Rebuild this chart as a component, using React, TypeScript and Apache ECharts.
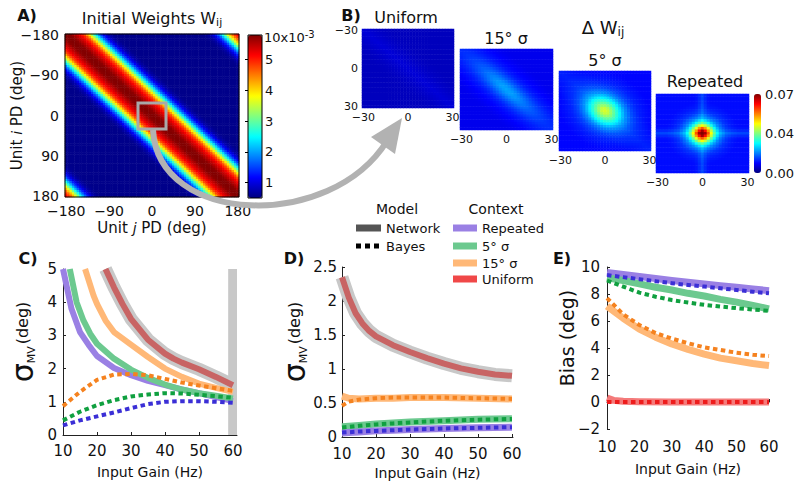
import React, { useEffect, useRef } from 'react';
import * as echarts from 'echarts';

const FONT = 'DejaVu Sans';
const INK = '#111';

// ---------- Panel A: initial weights ----------
const pdTicks = [-180, -90, 0, 90, 180];
const pdStep = 5;
const weightDist = [0, 10, 20, 30, 40, 50, 60, 70, 80, 90, 100, 110];
const weightProfile = [5.8, 5.75, 5.5, 5.2, 4.75, 3.9, 2.8, 1.8, 1.1, 0.72, 0.58, 0.55];
const weightWrapShift = 32;
const weightRange = [0.5, 5.8];
const weightBarTicks = [1, 2, 3, 4, 5];

// ---------- Panel B: delta W ----------
const dwTicks = [-30, 0, 30];
const dwStep = 2;
const dwRange = [0, 0.07];
const dwBarTicks = [0, 0.035, 0.07];
const dwBarLabels = ['0.00', '0.04', '0.07'];
const dwTitles = ['Uniform', '15° σ', '5° σ', 'Repeated'];
const bandDist = [0, 5, 10, 15, 20, 25, 30];
const blobDist = [0, 2, 4, 6, 8, 10, 12, 16, 20, 24, 28];
const crossDist = [0, 2, 4, 6];
const dwBase = [0.0042, 0.0075, 0.009, 0.0095];
const dwElong = [1, 3.5, 1.25, 1];
const uniformBand = [0.0018, 0.0012, 0.0006, 0.0002, 0, 0, 0];
const sigma15Band = [0.003, 0.0027, 0.002, 0.0013, 0.0007, 0.0003, 0];
const sigma5Band = [0.002, 0.0015, 0.001, 0.0005, 0, 0, 0];
const repeatedBand = [0, 0, 0, 0, 0, 0, 0];
const uniformBlob = [0, 0, 0, 0, 0, 0, 0, 0, 0, 0, 0];
const sigma15Blob = [0.0095, 0.0088, 0.007, 0.005, 0.0033, 0.002, 0.0012, 0.0004, 0, 0, 0];
const sigma5Blob = [0.03, 0.029, 0.025, 0.021, 0.017, 0.013, 0.009, 0.0045, 0.002, 0.0008, 0];
const repeatedBlob = [0.058, 0.054, 0.042, 0.03, 0.02, 0.013, 0.008, 0.003, 0.001, 0, 0];
const noCross = [0, 0, 0, 0];
const repeatedCross = [0.004, 0.002, 0.0005, 0];

// ---------- Panel C: sigma_MV ----------
const gainTicks = [10, 20, 30, 40, 50, 60];
const gainC_rep = [10, 12.5, 15, 17.5, 20, 25, 30, 35, 40, 45, 50, 55, 60];
const sigmaC_repNet = [5.0, 3.8, 3.1, 2.72, 2.38, 2.02, 1.8, 1.63, 1.5, 1.37, 1.26, 1.14, 1.02];
const gainC_s5 = [12, 14, 16, 18, 20, 25, 30, 35, 40, 45, 50, 55, 60];
const sigmaC_s5Net = [5.0, 4.0, 3.45, 3.05, 2.75, 2.3, 1.97, 1.72, 1.52, 1.37, 1.26, 1.18, 1.1];
const gainC_s15 = [16.5, 19, 20, 22.5, 25, 30, 35, 40, 45, 50, 55, 60];
const sigmaC_s15Net = [5.0, 4.2, 3.95, 3.45, 3.1, 2.72, 2.35, 2.0, 1.75, 1.55, 1.42, 1.3];
const gainC_uni = [22.5, 25, 27.5, 30, 35, 40, 42.5, 45, 50, 55, 60];
const sigmaC_uniNet = [5.0, 4.45, 3.95, 3.5, 2.87, 2.45, 2.3, 2.18, 1.98, 1.75, 1.5];
const gainBayes = [10, 15, 20, 25, 30, 35, 40, 45, 50, 55, 60];
const sigmaC_repBayes = [0.29, 0.44, 0.56, 0.68, 0.81, 0.93, 1.0, 1.02, 1.02, 1.0, 0.97];
const sigmaC_s5Bayes = [0.44, 0.7, 0.9, 1.05, 1.16, 1.22, 1.26, 1.25, 1.21, 1.17, 1.12];
const sigmaC_s15Bayes = [0.87, 1.3, 1.66, 1.82, 1.84, 1.8, 1.69, 1.58, 1.49, 1.41, 1.33];
const highlightGain = [58.6, 61.2];

// ---------- Panel D: sigma_MV (zoom) ----------
const gainD_uni = [10, 12, 14, 16, 18, 20, 25, 30, 35, 40, 45, 50, 55, 60];
const sigmaD_uniNet = [2.35, 2.05, 1.82, 1.67, 1.56, 1.48, 1.35, 1.25, 1.16, 1.08, 1.01, 0.96, 0.92, 0.9];
const gainD = [10, 12, 15, 20, 25, 30, 40, 50, 60];
const sigmaD_s15Net = [0.6, 0.57, 0.56, 0.57, 0.57, 0.58, 0.58, 0.57, 0.56];
const sigmaD_s15Bayes = [0.46, 0.52, 0.55, 0.57, 0.58, 0.58, 0.58, 0.57, 0.56];
const sigmaD_s5Net = [0.15, 0.16, 0.17, 0.19, 0.205, 0.22, 0.24, 0.26, 0.27];
const sigmaD_s5Bayes = [0.14, 0.15, 0.165, 0.185, 0.2, 0.215, 0.24, 0.255, 0.265];
const sigmaD_repNet = [0.06, 0.065, 0.075, 0.09, 0.1, 0.11, 0.125, 0.135, 0.145];
const sigmaD_repBayes = [0.065, 0.07, 0.08, 0.09, 0.1, 0.11, 0.125, 0.135, 0.145];

// ---------- Panel E: bias ----------
const gainE = [10, 15, 20, 25, 30, 35, 40, 45, 50, 55, 60];
const biasE_repNet = [9.6, 9.45, 9.3, 9.15, 9.0, 8.87, 8.75, 8.62, 8.5, 8.37, 8.25];
const biasE_repBayes = [9.4, 9.25, 9.1, 8.95, 8.8, 8.67, 8.55, 8.42, 8.3, 8.17, 8.05];
const biasE_s5Net = [9.2, 9.0, 8.75, 8.5, 8.3, 8.05, 7.85, 7.6, 7.4, 7.15, 6.9];
const biasE_s5Bayes = [9.0, 8.55, 8.1, 7.8, 7.55, 7.37, 7.2, 7.07, 6.95, 6.85, 6.75];
const biasE_s15Net = [7.1, 6.2, 5.4, 4.8, 4.3, 3.9, 3.55, 3.25, 3.05, 2.85, 2.7];
const biasE_s15Bayes = [7.7, 6.5, 5.7, 5.1, 4.7, 4.35, 4.05, 3.85, 3.65, 3.5, 3.4];
const gainE_uni = [10, 12, 15, 20, 30, 40, 50, 60];
const biasE_uniNet = [0.3, 0.12, 0.05, 0.02, 0, 0, 0, 0];
const biasE_uniBayes = [0, 0, 0, 0, 0, 0, 0, 0, 0, 0, 0];

// ---------- styles ----------
const JET = ['#000080', '#0000ff', '#0080ff', '#00ffff', '#80ff80', '#ffff00', '#ff8000', '#ff0000', '#800000'];
const C_REP = '#9a80e4';
const C_S5 = '#6cc98f';
const C_S15 = '#ffb877';
const C_UNI_CD = '#c86464';
const C_UNI_E = '#f47a7a';
const C_GRAY = '#c8c8c8';
const B_REP = '#3b2fd6';
const B_S5 = '#10a040';
const B_S15 = '#f5821f';
const B_UNI = '#ee1c1c';
const DASH = [4.5, 3.5];

function profileAt(dists: number[], vals: number[], d: number) {
  if (d <= dists[0]) return vals[0];
  for (let k = 1; k < dists.length; k++) {
    if (d <= dists[k]) {
      const t = (d - dists[k - 1]) / (dists[k] - dists[k - 1]);
      return vals[k - 1] + t * (vals[k] - vals[k - 1]);
    }
  }
  return vals[vals.length - 1];
}

const minus = (v: any) => String(v).replace('-', '−');

function txt(x: number, y: number, text: string, size: number, extra: any = {}) {
  return {
    type: 'text', x, y, silent: true, z: 50,
    style: { text, fontSize: size, fontFamily: FONT, fill: INK, align: 'center', verticalAlign: 'middle', ...extra },
  };
}

function seg(x1: number, y1: number, x2: number, y2: number, stroke: string, lineWidth: number, lineDash?: number[]) {
  return { type: 'line', silent: true, z: 50, shape: { x1, y1, x2, y2 }, style: { stroke, lineWidth, lineDash, lineCap: 'butt' } };
}

function lineSeries(axis: number, xs: number[], ys: number[], color: string, width: number, dashed: boolean, z: number, extra: any = {}) {
  return {
    type: 'line', xAxisIndex: axis, yAxisIndex: axis, z, silent: true, symbol: 'none', showSymbol: false,
    data: xs.map((x, k) => [x, ys[k]]),
    lineStyle: { color, width, type: dashed ? DASH : 'solid', cap: 'butt', join: 'round' },
    ...extra,
  };
}

function valueAxisX(grid: number, min: number, max: number, nameGap: number, margin: number) {
  return {
    type: 'value', gridIndex: grid, min, max,
    axisLine: { show: true, lineStyle: { color: '#222', width: 1 } },
    axisTick: { show: true, inside: true, length: 3, customValues: gainTicks, lineStyle: { color: '#222' } },
    axisLabel: { customValues: gainTicks, fontSize: 15, fontFamily: FONT, color: INK, margin, showMinLabel: true, showMaxLabel: true },
    splitLine: { show: false },
    name: 'Input Gain (Hz)', nameLocation: 'middle', nameGap, nameMoveOverlap: false,
    nameTextStyle: { fontSize: 14, fontFamily: FONT, color: INK },
  };
}

const sigmaRich = {
  s: { fontSize: 30, fontFamily: FONT, color: INK, lineHeight: 30 },
  m: { fontSize: 11, fontFamily: FONT, color: INK, verticalAlign: 'bottom', lineHeight: 11 },
  g: { fontSize: 6, fontFamily: FONT },
  d: { fontSize: 16, fontFamily: FONT, color: INK },
};

function buildOption() {
  const pdCats: string[] = [];
  for (let v = -180; v <= 180; v += pdStep) pdCats.push(String(v));
  const dwCats: string[] = [];
  for (let v = -30; v <= 30; v += dwStep) dwCats.push(String(v));

  const wData: number[][] = [];
  pdCats.forEach((cj, xj) => pdCats.forEach((ci, yi) => {
    const d = Math.abs(Number(ci) - Number(cj));
    const v = Math.max(
      profileAt(weightDist, weightProfile, d),
      profileAt(weightDist, weightProfile, 360 - d + weightWrapShift),
    );
    wData.push([xj, yi, v]);
  }));

  const bands = [uniformBand, sigma15Band, sigma5Band, repeatedBand];
  const blobs = [uniformBlob, sigma15Blob, sigma5Blob, repeatedBlob];
  const crosses = [noCross, noCross, noCross, repeatedCross];
  const dwData = [0, 1, 2, 3].map((p) => {
    const out: number[][] = [];
    dwCats.forEach((cj, xj) => dwCats.forEach((ci, yi) => {
      const i = Number(ci);
      const j = Number(cj);
      const along = (i + j) / Math.SQRT2;
      const across = (j - i) / Math.SQRT2;
      const rho = Math.hypot(along / dwElong[p], across);
      const v = dwBase[p]
        + profileAt(bandDist, bands[p], Math.abs(j - i))
        + profileAt(blobDist, blobs[p], rho)
        + profileAt(crossDist, crosses[p], Math.min(Math.abs(i), Math.abs(j)));
      out.push([xj, yi, v]);
    }));
    return out;
  });

  const bGrids = [
    { left: 362, top: 29, width: 92, height: 79 },
    { left: 460, top: 49, width: 93, height: 81 },
    { left: 559, top: 71, width: 92, height: 80 },
    { left: 656, top: 94, width: 93, height: 79 },
  ];

  const grid: any[] = [
    { left: 65, top: 34, width: 174, height: 163, show: true, borderColor: '#000', borderWidth: 1, backgroundColor: 'transparent', z: 10 },
    ...bGrids,
    { left: 63, top: 269, width: 174, height: 166 },
    { left: 342, top: 267, width: 171, height: 170 },
    { left: 607, top: 267, width: 162, height: 162 },
    { left: 248, top: 35, width: 14, height: 163, show: true, borderColor: '#000', borderWidth: 1, backgroundColor: 'transparent', z: 10 },
    { left: 754, top: 94, width: 7, height: 79 },
  ].map((g) => ({ outerBoundsMode: 'none', containLabel: false, ...g }));

  const xAxis: any[] = [
    {
      type: 'category', gridIndex: 0, data: pdCats,
      axisLine: { show: false }, axisTick: { show: false }, splitLine: { show: false },
      axisLabel: { interval: (_i: number, v: string) => pdTicks.includes(Number(v)), formatter: minus, fontSize: 14, lineHeight: 14, fontFamily: FONT, color: INK, margin: 7 },
      name: '{n|Unit }{i|j}{n| PD (deg)}', nameLocation: 'middle', nameGap: 23, nameMoveOverlap: false,
      nameTextStyle: { rich: { n: { fontSize: 15, fontFamily: FONT, color: INK }, i: { fontSize: 14, fontFamily: FONT, fontStyle: 'italic', color: INK } } },
    },
    ...bGrids.map((_, k) => ({
      type: 'category', gridIndex: k + 1, data: dwCats,
      axisLine: { show: false }, axisTick: { show: false }, splitLine: { show: false },
      axisLabel: { interval: (_i: number, v: string) => dwTicks.includes(Number(v)), formatter: minus, fontSize: 11, lineHeight: 11, fontFamily: FONT, color: INK, margin: 4 },
    })),
    valueAxisX(5, 10, 61.2, 30, 8),
    valueAxisX(6, 10, 60.3, 29, 9),
    valueAxisX(7, 10, 60, 33, 10),
    { type: 'value', gridIndex: 8, show: false, min: 0, max: 1 },
    { type: 'value', gridIndex: 9, show: false, min: 0, max: 1 },
  ];

  const yAxis: any[] = [
    {
      type: 'category', gridIndex: 0, data: pdCats, inverse: true,
      axisLine: { show: false }, axisTick: { show: false }, splitLine: { show: false },
      axisLabel: { interval: (_i: number, v: string) => pdTicks.includes(Number(v)), formatter: minus, fontSize: 14, lineHeight: 14, fontFamily: FONT, color: INK, margin: 6 },
      name: '{n|Unit }{i|i}{n| PD (deg)}', nameLocation: 'middle', nameGap: 41, nameMoveOverlap: false,
      nameTextStyle: { rich: { n: { fontSize: 15, fontFamily: FONT, color: INK }, i: { fontSize: 14, fontFamily: FONT, fontStyle: 'italic', color: INK } } },
    },
    ...bGrids.map((_, k) => ({
      type: 'category', gridIndex: k + 1, data: dwCats, inverse: true,
      axisLine: { show: false }, axisTick: { show: false }, splitLine: { show: false },
      axisLabel: { show: k === 0, interval: (_i: number, v: string) => dwTicks.includes(Number(v)), formatter: minus, fontSize: 11, lineHeight: 11, fontFamily: FONT, color: INK, margin: 4 },
    })),
    {
      type: 'value', gridIndex: 5, min: 0, max: 5, interval: 1,
      axisLine: { show: true, lineStyle: { color: '#222' } },
      axisTick: { show: true, inside: true, length: 3, lineStyle: { color: '#222' } },
      axisLabel: { fontSize: 15, fontFamily: FONT, color: INK, margin: 6 },
      splitLine: { show: false },
      name: '{s|σ}{m|MV}{g| }{d|(deg)}', nameLocation: 'middle', nameGap: 26, nameMoveOverlap: false,
      nameTextStyle: { rich: sigmaRich, padding: [0, 0, 0, 20] },
    },
    {
      type: 'value', gridIndex: 6, min: 0, max: 2.5, interval: 0.5,
      axisLine: { show: true, lineStyle: { color: '#222' } },
      axisTick: { show: true, inside: true, length: 3, lineStyle: { color: '#222' } },
      axisLabel: { fontSize: 15, fontFamily: FONT, color: INK, margin: 5 },
      splitLine: { show: false },
      name: '{s|σ}{m|MV}{g| }{d|(deg)}', nameLocation: 'middle', nameGap: 33, nameMoveOverlap: false,
      nameTextStyle: { rich: sigmaRich, padding: [0, 0, 0, 20] },
    },
    {
      type: 'value', gridIndex: 7, min: -2, max: 10, interval: 2,
      axisLine: { show: true, lineStyle: { color: '#222' } },
      axisTick: { show: true, inside: true, length: 3, lineStyle: { color: '#222' } },
      axisLabel: { formatter: minus, fontSize: 15, fontFamily: FONT, color: INK, margin: 7, showMinLabel: true, showMaxLabel: true },
      splitLine: { show: false },
      name: 'Bias (deg)', nameLocation: 'middle', nameGap: 31, nameMoveOverlap: false,
      nameTextStyle: { fontSize: 19, fontFamily: FONT, color: INK, padding: [0, 0, 0, 20] },
    },
    {
      type: 'value', gridIndex: 8, position: 'right', min: weightRange[0], max: weightRange[1],
      axisLine: { show: false }, splitLine: { show: false },
      axisTick: { show: true, inside: true, length: 3, customValues: weightBarTicks, lineStyle: { color: '#000' } },
      axisLabel: { customValues: weightBarTicks, fontSize: 13, fontFamily: FONT, color: INK, margin: 3 },
    },
    {
      type: 'value', gridIndex: 9, position: 'right', min: dwRange[0], max: dwRange[1],
      axisLine: { show: false }, splitLine: { show: false }, axisTick: { show: false },
      axisLabel: {
        customValues: dwBarTicks, fontSize: 13, fontFamily: FONT, color: INK, margin: 4,
        formatter: (v: number) => dwBarLabels[dwBarTicks.findIndex((t) => Math.abs(t - v) < 1e-6)] ?? '',
      },
    },
  ];

  const heat = (axis: number, data: number[][]) => ({
    type: 'heatmap', xAxisIndex: axis, yAxisIndex: axis, data, silent: true,
    progressive: 0, itemStyle: { borderWidth: 0 }, emphasis: { disabled: true },
  });

  const series: any[] = [
    heat(0, wData),
    ...dwData.map((d, k) => heat(k + 1, d)),
    // C
    lineSeries(5, gainC_uni, sigmaC_uniNet, C_GRAY, 13, false, 2, {
      markArea: { silent: true, itemStyle: { color: C_GRAY }, data: [[{ xAxis: highlightGain[0] }, { xAxis: highlightGain[1] }]] },
    }),
    lineSeries(5, gainC_rep, sigmaC_repNet, C_REP, 6, false, 3),
    lineSeries(5, gainC_s5, sigmaC_s5Net, C_S5, 6, false, 3),
    lineSeries(5, gainC_s15, sigmaC_s15Net, C_S15, 6, false, 3),
    lineSeries(5, gainC_uni, sigmaC_uniNet, C_UNI_CD, 6, false, 3),
    lineSeries(5, gainBayes, sigmaC_s15Bayes, B_S15, 4, true, 4),
    lineSeries(5, gainBayes, sigmaC_s5Bayes, B_S5, 4, true, 4),
    lineSeries(5, gainBayes, sigmaC_repBayes, B_REP, 4, true, 4),
    // D
    lineSeries(6, gainD_uni, sigmaD_uniNet, C_GRAY, 13, false, 2),
    lineSeries(6, gainD_uni, sigmaD_uniNet, C_UNI_CD, 6, false, 3),
    lineSeries(6, gainD, sigmaD_s15Net, C_S15, 7, false, 3),
    lineSeries(6, gainD, sigmaD_s5Net, C_S5, 7, false, 3),
    lineSeries(6, gainD, sigmaD_repNet, C_REP, 7, false, 3),
    lineSeries(6, gainD, sigmaD_s15Bayes, B_S15, 4, true, 4),
    lineSeries(6, gainD, sigmaD_s5Bayes, B_S5, 4, true, 4),
    lineSeries(6, gainD, sigmaD_repBayes, B_REP, 4, true, 4),
    // E
    lineSeries(7, gainE, biasE_repNet, C_REP, 7, false, 3),
    lineSeries(7, gainE, biasE_s5Net, C_S5, 7, false, 3),
    lineSeries(7, gainE, biasE_s15Net, C_S15, 7, false, 3),
    lineSeries(7, gainE_uni, biasE_uniNet, C_UNI_E, 7, false, 3),
    lineSeries(7, gainE, biasE_repBayes, B_REP, 4, true, 4),
    lineSeries(7, gainE, biasE_s5Bayes, B_S5, 4, true, 4),
    lineSeries(7, gainE, biasE_s15Bayes, B_S15, 4, true, 4),
    lineSeries(7, gainE, biasE_uniBayes, B_UNI, 4, true, 4),
  ];

  const visualMap: any[] = [
    {
      type: 'continuous', seriesIndex: 0, min: weightRange[0], max: weightRange[1], inRange: { color: JET },
      left: 248, top: 35, itemWidth: 14, itemHeight: 163, padding: 0, calculable: false, hoverLink: false, z: 5,
    },
    {
      type: 'continuous', seriesIndex: [1, 2, 3, 4], min: dwRange[0], max: dwRange[1], inRange: { color: JET },
      left: 754, top: 94, itemWidth: 7, itemHeight: 79, padding: 0, calculable: false, hoverLink: false, z: 5,
    },
  ];

  const sub = (size: number) => ({ fontSize: size, fontFamily: FONT, fill: INK, verticalAlign: 'bottom', lineHeight: size - 1 });

  const graphic: any[] = [
    txt(27, 15, 'A)', 16, { fontWeight: 'bold' }),
    txt(351, 15, 'B)', 16, { fontWeight: 'bold' }),
    txt(28, 258, 'C)', 16, { fontWeight: 'bold' }),
    txt(294, 258, 'D)', 16, { fontWeight: 'bold' }),
    txt(562, 258, 'E)', 16, { fontWeight: 'bold' }),
    {
      type: 'text', x: 152, y: 18, silent: true, z: 50,
      style: {
        text: '{a|Initial Weights W}{b|ij}', align: 'center', verticalAlign: 'middle',
        rich: { a: { fontSize: 16, fontFamily: FONT, fill: INK, lineHeight: 20 }, b: sub(11) },
      },
    },
    {
      type: 'text', x: 603, y: 27, silent: true, z: 50,
      style: {
        text: '{a|Δ W}{b|ij}', align: 'center', verticalAlign: 'middle',
        rich: { a: { fontSize: 18, fontFamily: FONT, fill: INK, lineHeight: 22 }, b: sub(12) },
      },
    },
    {
      type: 'text', x: 264, y: 37, silent: true, z: 50,
      style: {
        text: '{a|10x10}{b|-3}', align: 'left', verticalAlign: 'middle',
        rich: { a: { fontSize: 13, fontFamily: FONT, fill: INK, lineHeight: 16 }, b: { fontSize: 10, fontFamily: FONT, fill: INK, verticalAlign: 'top', lineHeight: 10 } },
      },
    },
    txt(406, 17, dwTitles[0], 16),
    txt(506, 38, dwTitles[1], 16),
    txt(605, 60, dwTitles[2], 16),
    txt(705, 81, dwTitles[3], 16),
    // zoom box on A
    { type: 'rect', silent: true, z: 60, shape: { x: 138, y: 103, width: 28, height: 26 }, style: { fill: 'none', stroke: '#a9a9a9', lineWidth: 3 } },
    // curved arrow
    {
      type: 'bezierCurve', silent: true, z: 60,
      shape: { x1: 153, y1: 130, cpx1: 158, cpy1: 225, cpx2: 330, cpy2: 232, x2: 387, y2: 141 },
      style: { stroke: '#b2b2b2', lineWidth: 6, fill: 'none' },
    },
    { type: 'polygon', silent: true, z: 60, shape: { points: [[402, 118], [371, 137], [395, 154]] }, style: { fill: '#b2b2b2' } },
    // legend
    txt(397, 209, 'Model', 14),
    txt(496, 209, 'Context', 14),
    seg(356, 228, 381, 228, '#555', 7),
    txt(386, 228, 'Network', 13, { align: 'left' }),
    seg(356, 246, 381, 246, '#000', 5, [5, 4]),
    txt(386, 246, 'Bayes', 13, { align: 'left' }),
    seg(453, 228, 477, 228, C_REP, 7),
    txt(482, 228, 'Repeated', 13, { align: 'left' }),
    seg(453, 246, 477, 246, C_S5, 7),
    txt(482, 246, '5° σ', 13, { align: 'left' }),
    seg(453, 263, 477, 263, C_S15, 7),
    txt(482, 263, '15° σ', 13, { align: 'left' }),
    seg(453, 279, 477, 279, '#f04848', 7),
    txt(482, 279, 'Uniform', 13, { align: 'left' }),
  ];

  return {
    animation: false,
    backgroundColor: '#fff',
    textStyle: { fontFamily: FONT },
    grid, xAxis, yAxis, visualMap, series, graphic,
  };
}

export default function App() {
  const ref = useRef<HTMLDivElement>(null);
  useEffect(() => {
    if (!ref.current) return;
    const chart = echarts.init(ref.current, null, { renderer: 'svg' });
    chart.setOption(buildOption() as any);
    return () => chart.dispose();
  }, []);
  return <div ref={ref} style={{ position: 'absolute', left: 0, top: 0, width: 800, height: 491, background: '#fff' }} />;
}
